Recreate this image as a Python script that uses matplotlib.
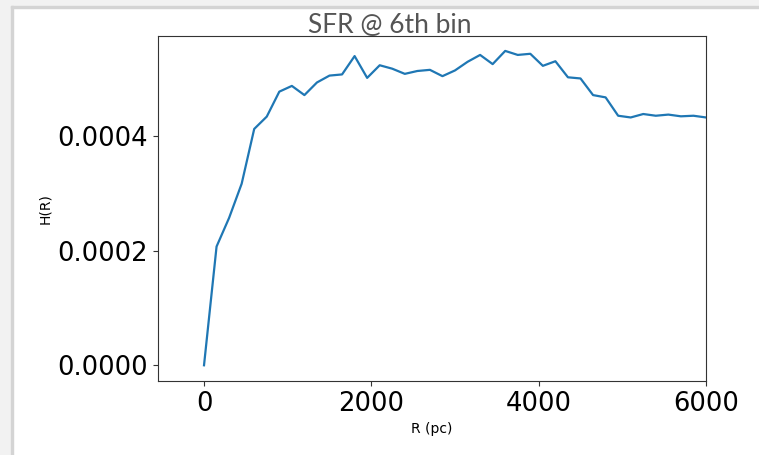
import numpy as np
import matplotlib.pyplot as plt
from matplotlib.patches import Rectangle

# radial bins (pc), step 150
R = np.arange(0, 6001, 150)
H = [0.0, 2.07e-4, 2.57e-4, 3.165e-4, 4.12e-4, 4.335e-4, 4.77e-4, 4.87e-4,
     4.71e-4, 4.93e-4, 5.05e-4, 5.07e-4, 5.39e-4, 5.01e-4, 5.23e-4, 5.17e-4,
     5.08e-4, 5.13e-4, 5.15e-4, 5.04e-4, 5.14e-4, 5.29e-4, 5.41e-4, 5.25e-4,
     5.48e-4, 5.41e-4, 5.43e-4, 5.22e-4, 5.30e-4, 5.02e-4, 5.00e-4, 4.71e-4,
     4.67e-4, 4.35e-4, 4.32e-4, 4.38e-4, 4.35e-4, 4.37e-4, 4.34e-4, 4.35e-4,
     4.32e-4]
yticks = [0.0, 0.0002, 0.0004]
xticks = [0, 2000, 4000, 6000]

W, Hpx = 759, 455
fig = plt.figure(figsize=(W/100, Hpx/100), dpi=100)

# screenshot frame (gray band on top and left)
fig.patches.append(Rectangle((0, 1-6/Hpx), 1, 6/Hpx, transform=fig.transFigure,
                             color='#f2f2f2', zorder=0))
fig.patches.append(Rectangle((0, 0), 10.5/W, 1, transform=fig.transFigure,
                             color='#f2f2f2', zorder=0))
fig.patches.append(Rectangle((10.5/W, 0), 2/W, 1-5.5/Hpx, transform=fig.transFigure,
                             color='#d4d4d4', zorder=0))
fig.patches.append(Rectangle((10.5/W, 1-7.5/Hpx), 1, 2/Hpx, transform=fig.transFigure,
                             color='#d4d4d4', zorder=0))

ax = fig.add_axes([158/W, (Hpx-381)/Hpx, (706-158)/W, (381-36)/Hpx])
ax.plot(R, H, color='#1f77b4', lw=1.6)
ax.set_xlim(-550, 6000)
ax.set_ylim(-0.0000274, 0.000574)
ax.set_xticks(xticks)
ax.set_yticks(yticks)
ax.set_xticklabels([str(x) for x in xticks])
ax.set_yticklabels(["%.4f" % y for y in yticks])
ax.tick_params(labelsize=18.6, color='#333333')
for s in ax.spines.values():
    s.set_color('#333333')
ax.set_xlabel("R (pc)", fontsize=10)
ax.set_ylabel("H(R)", fontsize=10)

fig.text(390/W, 1-33/Hpx, "SFR @ 6th bin", ha='center', va='baseline',
         fontsize=19, family='Lato', color='#555555')

plt.savefig("out.png", dpi=100)
